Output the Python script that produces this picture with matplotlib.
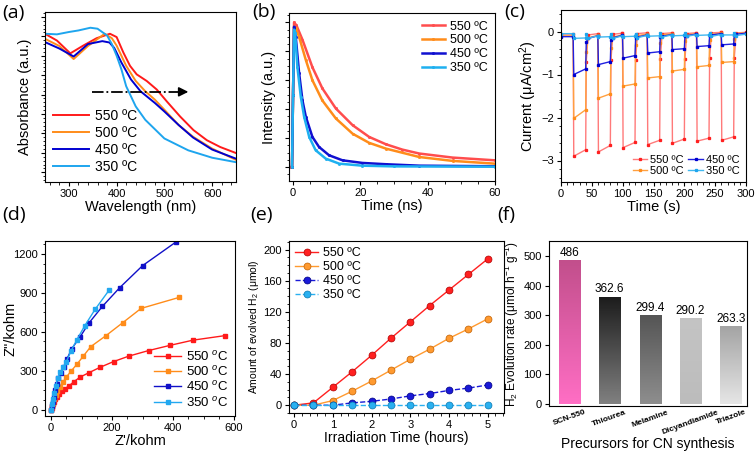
import numpy as np
import matplotlib.pyplot as plt
from matplotlib.colors import LinearSegmentedColormap

plt.rcParams['font.family'] = ['Liberation Sans', 'DejaVu Sans']
plt.rcParams['mathtext.fontset'] = 'custom'
plt.rcParams['mathtext.rm'] = 'Liberation Sans'
plt.rcParams['mathtext.it'] = 'Liberation Sans:italic'
plt.rcParams['axes.linewidth'] = 0.8

temps = ['550 ºC', '500 ºC', '450 ºC', '350 ºC']
colors = ['#ff1a1a', '#ff8c1a', '#0000d0', '#1ea5ee']

# (a) UV-vis
wl_550 = [250, 275, 303, 330, 358, 386, 400, 414, 428, 442, 463, 484, 505, 533, 561, 589, 617, 650]
ab_550 = [0.713, 0.678, 0.612, 0.652, 0.690, 0.713, 0.696, 0.617, 0.548, 0.504, 0.470, 0.426,
          0.365, 0.287, 0.217, 0.165, 0.130, 0.099]
wl_500 = [250, 280, 310, 340, 375, 390, 400, 410, 420, 440, 460, 480, 500, 530, 560, 600, 650]
ab_500 = [0.687, 0.650, 0.583, 0.650, 0.713, 0.690, 0.652, 0.600, 0.548, 0.470, 0.417, 0.374,
          0.322, 0.243, 0.183, 0.122, 0.064]
wl_450 = [250, 280, 310, 340, 370, 385, 395, 410, 430, 450, 480, 500, 530, 560, 600, 650]
ab_450 = [0.670, 0.637, 0.596, 0.660, 0.675, 0.668, 0.640, 0.565, 0.478, 0.417, 0.357, 0.313,
          0.243, 0.179, 0.117, 0.070]
wl_350 = [250, 275, 300, 320, 345, 360, 380, 390, 400, 410, 420, 440, 460, 480, 500, 550, 600, 650]
ab_350 = [0.713, 0.710, 0.722, 0.730, 0.744, 0.739, 0.704, 0.660, 0.600, 0.530, 0.443, 0.339,
          0.270, 0.222, 0.174, 0.113, 0.075, 0.052]

# (b) TRPL
t_550 = [-1.0, -0.3, 0.0, 0.3, 1.0, 2.8, 5.75, 8.7, 12.7, 17.7, 22.6, 27.6, 32.5, 37.5, 47.4, 60]
i_550 = [0, 0, 0.5, 1.0, 0.98, 0.88, 0.69, 0.544, 0.405, 0.289, 0.208, 0.157, 0.12, 0.093, 0.065, 0.046]
t_500 = [-0.3, 0.0, 0.3, 0.8, 1.8, 3.8, 5.75, 8.7, 12.7, 17.7, 22.6, 27.6, 37.5, 47.4, 60]
i_500 = [0, 0.5, 0.97, 0.96, 0.90, 0.74, 0.60, 0.46, 0.336, 0.23, 0.167, 0.127, 0.069, 0.042, 0.023]
t_450 = [-0.3, 0.0, 0.3, 0.8, 1.8, 2.8, 3.8, 5.75, 7.7, 10.7, 14.7, 20.6, 27.6, 37.5, 60]
i_450 = [0, 0.5, 0.97, 0.90, 0.65, 0.46, 0.347, 0.208, 0.139, 0.081, 0.046, 0.028, 0.019, 0.009, 0.005]
t_350 = [-0.3, 0.0, 0.3, 0.6, 1.3, 2.3, 3.3, 4.8, 6.7, 9.7, 13.7, 20.6, 30, 60]
i_350 = [0, 0.5, 0.95, 0.93, 0.69, 0.486, 0.347, 0.208, 0.116, 0.058, 0.023, 0.009, 0.004, 0.002]

# (c) photocurrent on/off
t_on = [20, 60, 100, 140, 180, 220, 260]
t_off = [40, 80, 120, 160, 200, 240, 280]
red_on_start = [-2.90, -2.80, -2.70, -2.63, -2.60, -2.55, -2.53]
red_on_end = [-2.75, -2.65, -2.58, -2.53, -2.50, -2.48, -2.45]
red_dark = [-0.06, -0.05, -0.04, -0.03, -0.03, -0.03, -0.02, -0.02]
org_on_start = [-2.02, -1.55, -1.27, -1.08, -0.92, -0.82, -0.72]
org_on_end = [-1.82, -1.45, -1.22, -1.05, -0.88, -0.79, -0.70]
org_dark = [-0.10, -0.09, -0.08, -0.06, -0.05, -0.05, -0.04, -0.03]
blu_on_start = [-1.00, -0.77, -0.62, -0.50, -0.42, -0.35, -0.31]
blu_on_end = [-0.87, -0.70, -0.56, -0.47, -0.40, -0.33, -0.29]
blu_dark = [-0.12, -0.10, -0.09, -0.08, -0.07, -0.06, -0.05, -0.04]
cyn_on_start = [-0.16, -0.13, -0.12, -0.11, -0.10, -0.09, -0.08]
cyn_on_end = [-0.15, -0.12, -0.11, -0.10, -0.09, -0.08, -0.08]
cyn_dark = [-0.05, -0.10, -0.10, -0.09, -0.08, -0.07, -0.07, -0.06]

# (d) Nyquist
zr_550 = [0, 2, 4, 6, 8, 12, 18, 25, 35, 45, 60, 75, 95, 125, 160, 205, 255, 320, 390, 465, 570]
zi_550 = [0, 15, 30, 45, 60, 80, 100, 120, 140, 160, 185, 215, 250, 285, 325, 370, 412, 455, 495, 535, 570]
zr_500 = [0, 3, 6, 10, 15, 20, 28, 38, 50, 65, 85, 105, 130, 180, 235, 295, 420]
zi_500 = [0, 25, 50, 80, 110, 140, 175, 210, 250, 295, 350, 410, 485, 570, 670, 780, 865]
zr_450 = [0, 2, 5, 8, 12, 18, 24, 32, 42, 52, 68, 95, 125, 168, 225, 300, 408]
zi_450 = [0, 30, 60, 100, 150, 200, 240, 280, 330, 390, 470, 560, 670, 795, 940, 1110, 1290]
zr_350 = [0, 3, 6, 10, 15, 22, 30, 40, 50, 65, 85, 110, 145, 190]
zi_350 = [0, 40, 80, 130, 185, 240, 290, 325, 370, 450, 540, 645, 775, 920]

# (e) H2 evolution
hours = [0, 0.5, 1, 1.5, 2, 2.5, 3, 3.5, 4, 4.5, 5]
h2_550 = [0, 3, 23, 43, 64, 86, 107, 128, 148, 168, 188]
h2_500 = [0, 0, 6, 18, 31, 45, 59, 72, 86, 98, 111]
h2_450 = [0, 0, 0, 3, 5, 8, 12, 15, 19, 22, 26]
h2_350 = [0, 0, 0, 0, 0, 0, 0, 0, 0, 0, 0]

# (f) precursors
precursors = ['SCN-550', 'Thiourea', 'Melamine', 'Dicyandiamide', 'Triazole']
rates = [486, 362.6, 299.4, 290.2, 263.3]
bar_grad = [('#ff6ec4', '#c24f8c'), ('#808080', '#1c1c1c'), ('#8e8e8e', '#555555'),
            ('#bcbcbc', '#c4c4c4'), ('#e6e6e6', '#a4a4a4')]

W, H = 756, 454
fig = plt.figure(figsize=(W / 100, H / 100), dpi=100)


def box(x0, y0, x1, y1):
    return fig.add_axes([x0 / W, 1 - y1 / H, (x1 - x0) / W, (y1 - y0) / H])


def style(ax, minor=True):
    ax.tick_params(direction='out', labelsize=8, length=3, width=0.8, pad=2)
    if minor:
        ax.minorticks_on()
        ax.tick_params(which='minor', direction='out', length=1.8, width=0.6)


# ---- (a)
ax = box(45, 12, 236, 182)
for w, a, c, lab in zip([wl_550, wl_500, wl_450, wl_350], [ab_550, ab_500, ab_450, ab_350], colors, temps):
    ax.plot(w, a, color=c, lw=1.4, label=lab)
ax.set_xlim(250, 650)
ax.set_ylim(-0.05, 0.825)
ax.set_yticks(np.arange(0, 0.81, 0.1))
ax.set_yticklabels([])
style(ax)
ax.set_xticks([300, 400, 500, 600])
ax.plot([348, 535], [0.414, 0.414], 'k-.', lw=1.3)
ax.annotate('', xy=(556, 0.414), xytext=(530, 0.414),
            arrowprops=dict(arrowstyle='-|>', color='k', lw=1.2, mutation_scale=14))
ax.set_xlabel('Wavelength (nm)', fontsize=10.5, labelpad=1)
ax.set_ylabel('Absorbance (a.u.)', fontsize=10.5, labelpad=4)
ax.legend(loc='lower left', frameon=False, fontsize=10, handlelength=2.6, handletextpad=0.4,
          labelspacing=0.2, borderaxespad=0.2)

# ---- (b)
ax = box(289, 13, 495, 181)
for t, i, c, lab in zip([t_550, t_500, t_450, t_350], [i_550, i_500, i_450, i_350],
                        ['#ff4d4d', '#ff8c1a', '#1010d0', '#1eb0f0'], temps):
    ax.plot(t, i, color=c, lw=1.8, marker='s', ms=1.0, label=lab)
ax.set_xlim(-1.2, 60)
ax.set_ylim(-0.097, 1.065)
ax.set_yticks(np.arange(0, 1.01, 0.2))
ax.set_yticklabels([])
ax.set_xticks([0, 20, 40, 60])
style(ax)
ax.set_xlabel('Time (ns)', fontsize=10.5, labelpad=1)
ax.set_ylabel('Intensity (a.u.)', fontsize=10.5, labelpad=4)
ax.legend(loc='upper right', frameon=False, fontsize=9, handlelength=1.8, handletextpad=0.4,
          labelspacing=0.15, borderaxespad=0.2)

# ---- (c)
ax = box(561, 10, 746, 182)


def square(on_s, on_e, dark):
    t, y = [0], [dark[0]]
    for k in range(len(t_on)):
        t_next = t_on[k + 1] - 0.3 if k + 1 < len(t_on) else 300
        t += [t_on[k] - 0.3, t_on[k] + 0.7, t_off[k], t_off[k] + 1.0, t_off[k] + 4, t_next]
        y += [dark[k], on_s[k], on_e[k], (on_e[k] + dark[k + 1]) / 4, dark[k + 1] * 1.6, dark[k + 1]]
    return t, y


series_c = [(red_on_start, red_on_end, red_dark), (org_on_start, org_on_end, org_dark),
            (blu_on_start, blu_on_end, blu_dark), (cyn_on_start, cyn_on_end, cyn_dark)]
line_c = ['#ff7a7a', '#ffa040', '#2020e0', '#40b8f0']
mark_c = ['#ff2020', '#ff8c1a', '#0000d0', '#1ea5ee']
for (s, e, d), lc, mc, lab in zip(series_c, line_c, mark_c, temps):
    t, y = square(s, e, d)
    ax.plot(t, y, color=lc, lw=1.0, marker='s', ms=1.4, mfc=mc, mec=mc, label=lab)
ax.set_xlim(0, 300)
ax.set_ylim(-3.5, 0.5)
ax.set_xticks([0, 50, 100, 150, 200, 250, 300])
ax.set_yticks([-3, -2, -1, 0])
style(ax)
ax.set_xlabel('Time (s)', fontsize=10.5, labelpad=1)
ax.set_ylabel('Current (μA/cm$^2$)', fontsize=10.5, labelpad=2)
ax.legend(loc='lower right', ncol=2, frameon=False, fontsize=8, handlelength=1.3,
          handletextpad=0.3, columnspacing=0.4, labelspacing=0.05, borderaxespad=0.15)

# ---- (d)
ax = box(45, 241, 235, 416)
temps_d = ['550 $^{o}$C', '500 $^{o}$C', '450 $^{o}$C', '350 $^{o}$C']
for x, y, c, lab in zip([zr_550, zr_500, zr_450, zr_350], [zi_550, zi_500, zi_450, zi_350],
                        ['#ff1a1a', '#ff8c1a', '#1010c8', '#22a8f0'], temps_d):
    ax.plot(x, y, color=c, lw=1.0, marker='s', ms=2.8, label=lab)
ax.set_xlim(-20, 603)
ax.set_ylim(-50, 1300)
ax.set_xticks([0, 200, 400, 600])
ax.set_yticks([0, 300, 600, 900, 1200])
style(ax)
ax.set_xlabel("Z'/kohm", fontsize=10.5, labelpad=1)
ax.set_ylabel('Z"/kohm', fontsize=10.5)
ax.yaxis.set_label_coords(-0.145, 0.5)
ax.legend(loc='lower right', frameon=False, fontsize=9.5, handlelength=2.0, handletextpad=0.4,
          labelspacing=0.1, borderaxespad=0.1)

# ---- (e)
ax = box(289, 241, 504, 413)
styles_e = ['-', '-', '--', '--']
edge_e = ['#b00000', '#c06000', '#000080', '#0a78b0']
for y, c, ec, ls, lab in zip([h2_550, h2_500, h2_450, h2_350], ['#ff2020', '#ff9a30', '#1a1ad8', '#2ab0f0'],
                             edge_e, styles_e, temps):
    ax.plot(hours, y, color=c, lw=1.0, ls=ls, marker='o', ms=5, mfc=c, mec=ec, mew=0.5, label=lab)
ax.set_xlim(-0.13, 5.42)
ax.set_ylim(-10, 211)
ax.set_xticks([0, 1, 2, 3, 4, 5])
ax.set_yticks([0, 40, 80, 120, 160, 200])
style(ax)
ax.set_xlabel('Irradiation Time (hours)', fontsize=10, labelpad=1)
ax.set_ylabel('Amount of evolved H$_2$ (μmol)', fontsize=7.5, labelpad=2)
ax.legend(loc='upper left', frameon=False, fontsize=9, handlelength=1.8, handletextpad=0.4,
          labelspacing=0.15, borderaxespad=0.1)

# ---- (f)
ax = box(549, 241, 747, 406)
xs = np.arange(len(precursors))
bars = ax.bar(xs, rates, width=0.52, color='none', edgecolor='none')
for b, (c0, c1) in zip(bars, bar_grad):
    cmap = LinearSegmentedColormap.from_list('g', [c0, c1])
    x0, h = b.get_x(), b.get_height()
    im = ax.imshow(np.linspace(0, 1, 100).reshape(-1, 1), cmap=cmap, aspect='auto', origin='lower',
                   extent=[x0, x0 + b.get_width(), 0, h], zorder=2)
    im.set_clip_path(b)
for x, v in zip(xs, rates):
    ax.text(x, v + 4, f'{v:g}', ha='center', va='bottom', fontsize=8.5)
ax.set_xlim(-0.5, 4.4)
ax.set_ylim(-8, 551)
ax.set_xticks(xs)
ax.set_xticklabels(precursors, rotation=20, fontsize=6, fontweight='bold', ha='center')
ax.set_yticks([0, 100, 200, 300, 400, 500])
ax.tick_params(axis='x', length=0, pad=2)
ax.tick_params(axis='y', direction='out', labelsize=8, length=3, pad=2)
ax.set_xlabel('Precursors for CN synthesis', fontsize=10)
ax.xaxis.set_label_coords(0.5, -0.19)
ax.set_ylabel('H$_2$ Evolution rate (μmol h$^{-1}$ g$^{-1}$)', fontsize=8.5, labelpad=2)

# panel labels
for lab, x, y in [('(a)', 2, 13), ('(b)', 252, 12), ('(c)', 504, 12),
                  ('(d)', 2, 215), ('(e)', 250, 215), ('(f)', 497, 215)]:
    fig.text(x / W, 1 - y / H, lab, fontsize=14, family='Open Sans', va='center', ha='left')

fig.savefig('out.png', dpi=100)
